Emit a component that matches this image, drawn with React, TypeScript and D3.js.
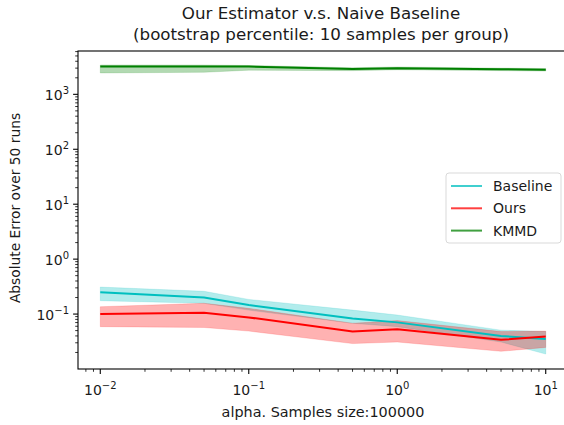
import React, { useEffect, useRef } from 'react';
import * as d3 from 'd3';

const alphas = [0.01, 0.05, 0.1, 0.5, 1, 5, 10];

const baselineMid = [0.25, 0.2, 0.146, 0.083, 0.0706, 0.04, 0.035];
const baselineLo = [0.175, 0.157, 0.118, 0.068, 0.059, 0.031, 0.0187];
const baselineHi = [0.31, 0.26, 0.185, 0.118, 0.096, 0.051, 0.048];

const oursMid = [0.1, 0.106, 0.087, 0.048, 0.053, 0.034, 0.039];
const oursLo = [0.059, 0.057, 0.049, 0.029, 0.031, 0.021, 0.0247];
const oursHi = [0.136, 0.157, 0.127, 0.068, 0.076, 0.048, 0.049];

const kmmdMid = [3200, 3200, 3200, 2900, 2990, 2870, 2790];
const kmmdLo = [2450, 2520, 2750, 2700, 2800, 2700, 2650];
const kmmdHi = [3420, 3420, 3350, 3050, 3150, 3000, 2950];

const seriesNames = ['Baseline', 'Ours', 'KMMD'];
const seriesColors = ['#00bfbf', '#ff0000', '#008000'];

const xTicks = [-2, -1, 0, 1];
const yTicks = [-1, 0, 1, 2, 3];

const W = 564;
const H = 425;
const left = 78;
const right = 568;
const top = 51;
const bottom = 369;

export default function App() {
  const svgRef = useRef<SVGSVGElement>(null);

  useEffect(() => {
    const svg = d3.select(svgRef.current);
    svg.selectAll('*').remove();
    const font = 'DejaVu Sans, sans-serif';
    const ink = '#1a1a1a';

    const x = d3.scaleLog().domain([0.01 / Math.pow(10, 0.15), 10 * Math.pow(10, 0.15)]).range([left, right]);
    const y = d3.scaleLog().domain([0.01, 6150]).range([bottom, top]);

    const groups = [
      { mid: baselineMid, lo: baselineLo, hi: baselineHi },
      { mid: oursMid, lo: oursLo, hi: oursHi },
      { mid: kmmdMid, lo: kmmdLo, hi: kmmdHi },
    ];

    const plot = svg.append('g');
    groups.forEach((g, i) => {
      const area = d3.area<number>()
        .x((d, j) => x(alphas[j]))
        .y0((d, j) => y(g.lo[j]))
        .y1((d, j) => y(g.hi[j]));
      plot.append('path')
        .attr('d', area(alphas)!)
        .attr('fill', seriesColors[i])
        .attr('fill-opacity', 0.3)
        .attr('stroke', seriesColors[i])
        .attr('stroke-opacity', 0.15);
    });
    groups.forEach((g, i) => {
      const ln = d3.line<number>()
        .x((d, j) => x(alphas[j]))
        .y((d) => y(d));
      plot.append('path')
        .attr('d', ln(g.mid)!)
        .attr('fill', 'none')
        .attr('stroke', seriesColors[i])
        .attr('stroke-width', 2);
    });

    // spines
    svg.append('rect')
      .attr('x', left).attr('y', top)
      .attr('width', right - left).attr('height', bottom - top)
      .attr('fill', 'none').attr('stroke', '#000').attr('stroke-width', 1.1);

    const supText = (e: number) => (e < 0 ? '\u2212' + Math.abs(e) : String(e));

    // x ticks
    const xMinor: number[] = [];
    for (let k = -3; k <= 1; k++) for (let m = 2; m <= 9; m++) {
      const v = m * Math.pow(10, k);
      if (v >= x.domain()[0] && v <= x.domain()[1]) xMinor.push(v);
    }
    xMinor.forEach((v) => {
      svg.append('line').attr('x1', x(v)).attr('x2', x(v)).attr('y1', bottom).attr('y2', bottom + 2.8)
        .attr('stroke', '#000').attr('stroke-width', 0.8);
    });
    xTicks.forEach((e) => {
      const px = x(Math.pow(10, e));
      svg.append('line').attr('x1', px).attr('x2', px).attr('y1', bottom).attr('y2', bottom + 4.9)
        .attr('stroke', '#000').attr('stroke-width', 1.1);
      const t = svg.append('text').attr('x', px).attr('y', bottom + 26)
        .attr('text-anchor', 'middle').attr('font-family', font).attr('font-size', 14).attr('fill', ink);
      t.append('tspan').text('10');
      t.append('tspan').attr('dy', -6).attr('font-size', 10).text(supText(e));
    });

    // y ticks
    const yMinor: number[] = [];
    for (let k = -2; k <= 3; k++) for (let m = 2; m <= 9; m++) {
      const v = m * Math.pow(10, k);
      if (v >= y.domain()[0] && v <= y.domain()[1]) yMinor.push(v);
    }
    yMinor.forEach((v) => {
      svg.append('line').attr('x1', left - 2.8).attr('x2', left).attr('y1', y(v)).attr('y2', y(v))
        .attr('stroke', '#000').attr('stroke-width', 0.8);
    });
    yTicks.forEach((e) => {
      const py = y(Math.pow(10, e));
      svg.append('line').attr('x1', left - 4.9).attr('x2', left).attr('y1', py).attr('y2', py)
        .attr('stroke', '#000').attr('stroke-width', 1.1);
      const t = svg.append('text').attr('x', left - 9).attr('y', py + 6)
        .attr('text-anchor', 'end').attr('font-family', font).attr('font-size', 14).attr('fill', ink);
      t.append('tspan').text('10');
      t.append('tspan').attr('dy', -6).attr('font-size', 10).text(supText(e));
    });

    // labels
    svg.append('text').attr('x', (left + right) / 2).attr('y', 417)
      .attr('text-anchor', 'middle').attr('font-family', font).attr('font-size', 14.4).attr('fill', ink)
      .text('alpha. Samples size:100000');
    svg.append('text').attr('transform', `translate(20,208) rotate(-90)`)
      .attr('text-anchor', 'middle').attr('font-family', font).attr('font-size', 13.8).attr('fill', ink)
      .text('Absolute Error over 50 runs');
    svg.append('text').attr('x', 321).attr('y', 19)
      .attr('text-anchor', 'middle').attr('font-family', font).attr('font-size', 16.7).attr('fill', ink)
      .text('Our Estimator v.s. Naive Baseline');
    svg.append('text').attr('x', 321).attr('y', 40)
      .attr('text-anchor', 'middle').attr('font-family', font).attr('font-size', 16.7).attr('fill', ink)
      .text('(bootstrap percentile: 10 samples per group)');

    // legend
    const lg = svg.append('g').attr('transform', 'translate(446,173)');
    lg.append('rect').attr('width', 115).attr('height', 70).attr('rx', 3)
      .attr('fill', '#fff').attr('fill-opacity', 0.8).attr('stroke', '#d9d9d9').attr('stroke-width', 1);
    seriesNames.forEach((n, i) => {
      const ly = 13 + i * 22.3;
      lg.append('line').attr('x1', 5).attr('x2', 36).attr('y1', ly).attr('y2', ly)
        .attr('stroke', seriesColors[i]).attr('stroke-width', 2).attr('stroke-opacity', 0.75);
      lg.append('text').attr('x', 47).attr('y', ly + 5).attr('font-family', font).attr('font-size', 14)
        .attr('fill', ink).text(n);
    });
  }, []);

  return (
    <svg ref={svgRef} width={W} height={H} style={{ position: 'absolute', left: 0, top: 0, background: '#fff' }} />
  );
}
